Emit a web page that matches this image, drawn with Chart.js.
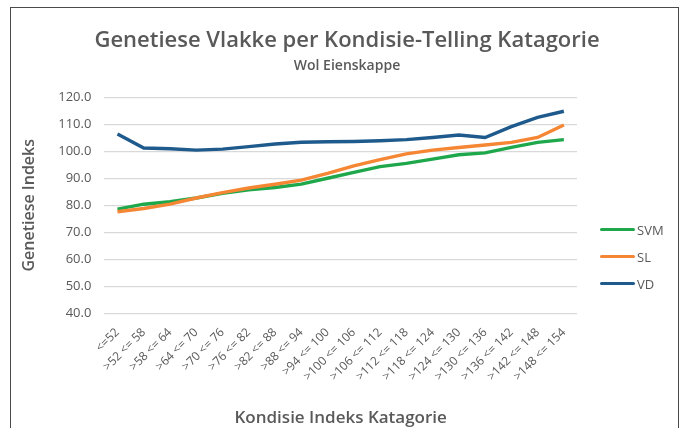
<!DOCTYPE html>
<html>
<head>
<meta charset="utf-8">
<script src="https://cdn.jsdelivr.net/npm/chart.js@4"></script>
<style>
  html, body { margin: 0; padding: 0; background: #fff; }
  #wrap { position: relative; width: 688px; height: 428px; overflow: hidden; }
  #frame { position: absolute; left: 10px; top: 7px; width: 669px; height: 440px; border: 1.5px solid #4a4a4a; box-sizing: border-box; pointer-events: none; }
  #legend { position: absolute; left: 600px; top: 216px; font: 13px 'Open Sans', sans-serif; color: #595959; }
  #legend .item { display: flex; align-items: center; height: 27px; }
  #legend .swatch { width: 35px; height: 3.5px; border-radius: 2px; margin-right: 2px; }
</style>
</head>
<body>
<div id="wrap">
  <canvas id="chart" width="688" height="428"></canvas>
  <div id="frame"></div>
  <div id="legend"></div>
</div>
<script>
const categories = ['<=52', '>52 <= 58', '>58 <= 64', '>64 <= 70', '>70 <= 76', '>76 <= 82', '>82 <= 88',
  '>88 <= 94', '>94 <= 100', '>100 <= 106', '>106 <= 112', '>112 <= 118', '>118 <= 124',
  '>124 <= 130', '>130 <= 136', '>136 <= 142', '>142 <= 148', '>148 <= 154'];

const svm = [78.6, 80.4, 81.3, 82.7, 84.4, 85.7, 86.6, 87.8, 90.0, 92.2, 94.3, 95.5, 97.1, 98.7, 99.4, 101.4, 103.3, 104.3];
const sl  = [77.6, 78.8, 80.4, 82.7, 84.7, 86.4, 87.8, 89.3, 91.8, 94.6, 96.9, 99.0, 100.4, 101.4, 102.3, 103.3, 105.1, 109.7];
const vd  = [106.4, 101.2, 100.9, 100.4, 100.8, 101.7, 102.7, 103.3, 103.5, 103.6, 103.9, 104.3, 105.1, 106.0, 105.1, 109.1, 112.5, 114.8];

const seriesNames = ['SVM', 'SL', 'VD'];
const seriesColors = ['#1fa84b', '#f58634', '#1f5a8c'];

const txt = '#595959';
const font = "'Open Sans', sans-serif";

const datasets = [svm, sl, vd].map((d, i) => ({
  label: seriesNames[i],
  data: d,
  borderColor: seriesColors[i],
  backgroundColor: seriesColors[i],
  borderWidth: 3.4,
  pointRadius: 0,
  tension: 0,
}));
// draw VD first so green/orange sit on top like in the original
datasets.reverse();

new Chart(document.getElementById('chart'), {
  type: 'line',
  data: { labels: categories, datasets },
  options: {
    responsive: false,
    animation: false,
    layout: { padding: { left: 16, right: 10, top: 0, bottom: 0 } },
    plugins: {
      legend: { display: false },
      tooltip: { enabled: false },
      title: {
        display: true,
        text: 'Genetiese Vlakke per Kondisie-Telling Katagorie',
        color: txt,
        font: { family: font, size: 22, weight: '600' },
        padding: { top: 28, bottom: 3 },
      },
      subtitle: {
        display: true,
        text: 'Wol Eienskappe',
        color: txt,
        font: { family: font, size: 14, weight: '600' },
        padding: { bottom: 23 },
      },
    },
    scales: {
      y: {
        min: 40,
        max: 120,
        ticks: { stepSize: 10, color: txt, padding: 13, font: { family: font, size: 13 }, callback: v => v.toFixed(1) },
        grid: { color: '#d9d9d9', lineWidth: 1.2, drawTicks: false },
        border: { display: false },
        title: { display: true, text: 'Genetiese Indeks', color: txt, font: { family: font, size: 16, weight: '600' }, padding: { bottom: 6 } },
      },
      // empty right-hand axis that only keeps room free for the legend
      legendRoom: {
        position: 'right',
        display: true,
        ticks: { display: false },
        grid: { display: false, drawTicks: false },
        border: { display: false },
        afterFit: s => { s.width = 101; },
      },
      x: {
        offset: true,
        ticks: { color: txt, minRotation: 45, maxRotation: 45, padding: 4, font: { family: font, size: 12 } },
        grid: { display: false },
        border: { display: false },
        title: { display: true, text: 'Kondisie Indeks Katagorie', color: txt, font: { family: font, size: 17, weight: '600' }, padding: { top: 20, bottom: 0 } },
      },
    },
  },
});

const legendEl = document.getElementById('legend');
seriesNames.forEach((name, i) => {
  const row = document.createElement('div');
  row.className = 'item';
  row.innerHTML = `<span class="swatch" style="background:${seriesColors[i]}"></span><span>${name}</span>`;
  legendEl.appendChild(row);
});
</script>
</body>
</html>
